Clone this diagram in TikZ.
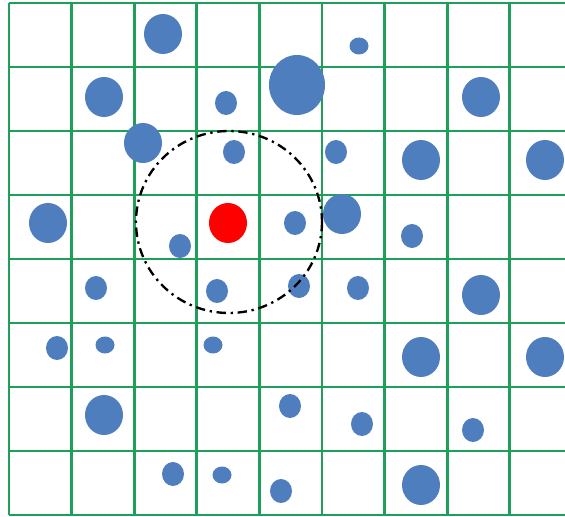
\documentclass[tikz,border=0pt]{standalone}
\usepackage{xcolor}
\usepackage{tikz}
\definecolor{gridgreen}{RGB}{30,160,90}
\definecolor{dotblue}{RGB}{79,126,190}
\definecolor{dotred}{RGB}{255,0,0}

\begin{document}
\begin{tikzpicture}[x=0.03cm,y=-0.03cm,
  gridline/.style={draw=gridgreen,line width=2.5pt},
  big/.style={fill=dotblue},
  query/.style={fill=dotred},
  searchring/.style={draw=black,line width=2pt,dash pattern=on 8pt off 4pt on 2pt off 4pt}]
\useasboundingbox (0,0) rectangle (565,517);
% grid
\foreach \gx in {9,71.6,134.2,196.8,259.4,322,384.6,447.2,509.8}
  \draw[gridline] (\gx,3) -- (\gx,515);
\foreach \gy in {3,67,131,195,259,323,387,451,515}
  \draw[gridline] (9,\gy) -- (566,\gy);
% large points
\foreach \px/\py in {163/34,104/97,143/143,481/97,421/160,545/160,48/223,342/214,
  481/295,421/357,545/357,104/415,421/485}
  \fill[big] (\px,\py) ellipse (19 and 20);
\fill[big] (297,85) ellipse (28 and 30);
% medium points
\foreach \px/\py in {226/103,234/152,336/152,295/223,180/246,412/236,96/288,217/291,
  299/286,358/288,57/348,290/406,362/424,473/430,173/474,281/491}
  \fill[big] (\px,\py) ellipse (11 and 12);
% small points
\foreach \px/\py in {359/46,105/345,213/345,222/475}
  \fill[big] (\px,\py) ellipse (9.5 and 8.5);
% query point and search range
\fill[query] (228,223) ellipse (19 and 20);
\draw[searchring] (229,222) ellipse (93 and 91);
\end{tikzpicture}
\end{document}
